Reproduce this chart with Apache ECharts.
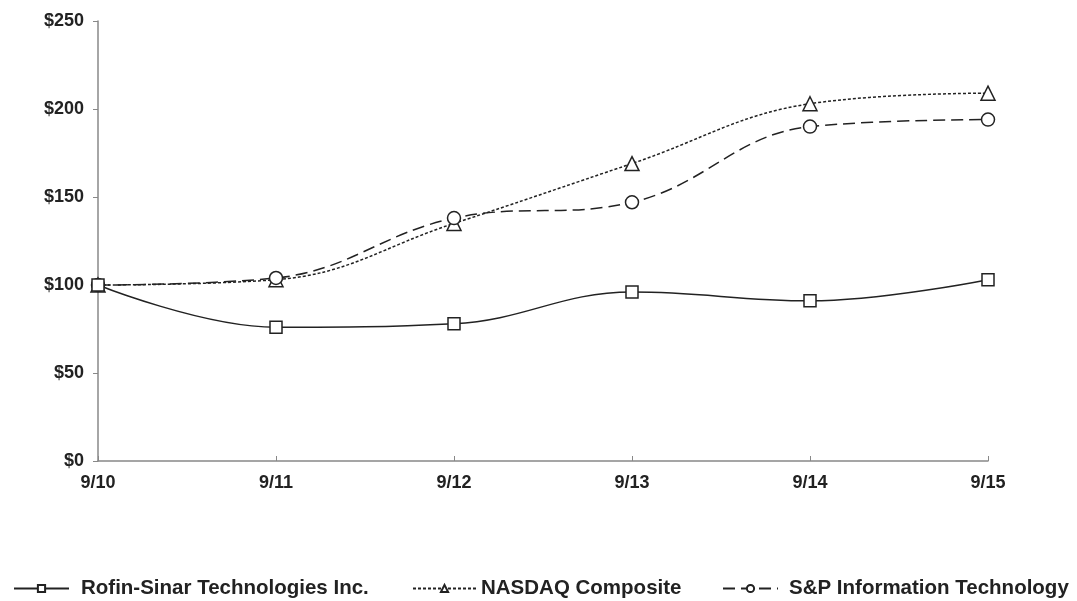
<!DOCTYPE html>
<html>
<head>
<meta charset="utf-8">
<script src="https://cdn.jsdelivr.net/npm/echarts@6/dist/echarts.min.js"></script>
<style>html,body{margin:0;padding:0;background:#fff}#c{width:1077px;height:601px}</style>
</head>
<body>
<div id="c"></div>
<script>
var categories = ['9/10', '9/11', '9/12', '9/13', '9/14', '9/15'];
var rofin = [100, 76, 78, 96, 91, 103];
var nasdaq = [100, 103, 135, 169, 203, 209];
var spit = [100, 104, 138, 147, 190, 194];
var seriesNames = ['Rofin-Sinar Technologies Inc.', 'NASDAQ Composite', 'S&P Information Technology'];

var chart = echarts.init(document.getElementById('c'));
var font = 'Liberation Sans, Arial, sans-serif';
var ink = '#222';
function legendAt(left, name, w, pad) {
  return {
    data: [name], left: left, top: 578, padding: 0, itemWidth: w, itemHeight: 9,
    textStyle: { fontFamily: font, fontWeight: 'bold', fontSize: 20.5, color: ink, padding: [0, 0, 0, pad] }
  };
}
chart.setOption({
  animation: false,
  backgroundColor: '#fff',
  grid: { left: 98, right: 89, top: 21, bottom: 140 },
  legend: [
    legendAt(13, seriesNames[0], 55, 7),
    legendAt(412, seriesNames[1], 63, 0),
    legendAt(722, seriesNames[2], 55, 6)
  ],
  xAxis: {
    type: 'category', data: categories, boundaryGap: false,
    axisLine: { lineStyle: { color: '#888', width: 1.5 } },
    axisTick: { inside: true, length: 5, lineStyle: { color: '#888' } },
    axisLabel: { margin: 13, fontFamily: font, fontWeight: 'bold', fontSize: 18, color: ink },
    splitLine: { show: false }
  },
  yAxis: {
    type: 'value', min: 0, max: 250, interval: 50,
    axisLine: { show: true, lineStyle: { color: '#888', width: 1.5 } },
    axisTick: { show: true, length: 5, lineStyle: { color: '#888' } },
    axisLabel: { margin: 14, fontFamily: font, fontWeight: 'bold', fontSize: 18, color: ink, formatter: '${value}' },
    splitLine: { show: false }
  },
  series: [
    { name: seriesNames[0], type: 'line', data: rofin, smooth: 0.4, symbol: 'rect', symbolSize: 12,
      itemStyle: { color: '#fff', borderColor: ink, borderWidth: 1.5 },
      lineStyle: { color: ink, width: 1.5, type: 'solid' }, z: 3 },
    { name: seriesNames[1], type: 'line', data: nasdaq, smooth: 0.4, symbol: 'triangle', symbolSize: 14,
      itemStyle: { color: '#fff', borderColor: ink, borderWidth: 1.5 },
      lineStyle: { color: ink, width: 1.5, type: [3, 2] }, z: 2 },
    { name: seriesNames[2], type: 'line', data: spit, smooth: 0.4, symbol: 'circle', symbolSize: 13,
      itemStyle: { color: '#fff', borderColor: ink, borderWidth: 1.5 },
      lineStyle: { color: ink, width: 1.5, type: [12, 6] }, z: 2 }
  ]
});
</script>
</body>
</html>
